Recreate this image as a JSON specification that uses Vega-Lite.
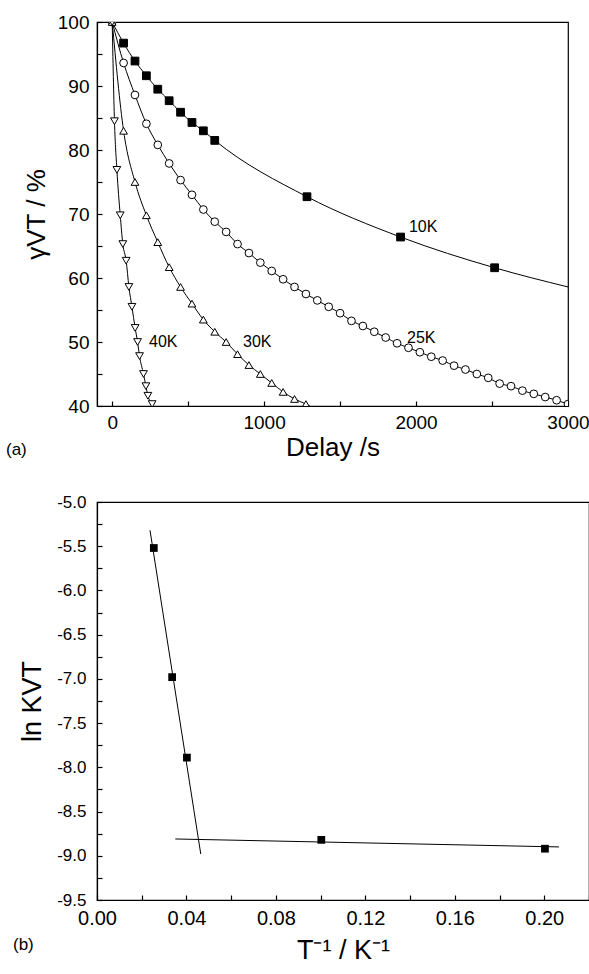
{
  "$schema": "https://vega.github.io/schema/vega-lite/v6.json",
  "padding": {"left": 5, "top": 12, "right": 0, "bottom": 0},
  "spacing": 31,
  "background": "white",
  "config": {
    "font": "Liberation Sans",
    "view": {"stroke": "black", "strokeWidth": 1.2},
    "axis": {
      "grid": false, "domainColor": "black", "tickColor": "black", "labelColor": "black",
      "titleColor": "black", "titleFontWeight": "normal", "tickSize": -5, "domainWidth": 1.2,
      "tickWidth": 1.2, "labelFont": "Liberation Sans", "titleFont": "Liberation Sans",
      "labelFlush": false, "labelOverlap": false, "labelBound": false
    }
  },
  "datasets": {
    "a": [
      {"s": "10K", "t": 0, "v": 100, "m": 0},
      {"s": "10K", "t": 75, "v": 96.7, "m": 1},
      {"s": "10K", "t": 150, "v": 93.9, "m": 1},
      {"s": "10K", "t": 225, "v": 91.6, "m": 1},
      {"s": "10K", "t": 300, "v": 89.5, "m": 1},
      {"s": "10K", "t": 375, "v": 87.7, "m": 1},
      {"s": "10K", "t": 450, "v": 85.9, "m": 1},
      {"s": "10K", "t": 525, "v": 84.3, "m": 1},
      {"s": "10K", "t": 600, "v": 83.0, "m": 1},
      {"s": "10K", "t": 675, "v": 81.5, "m": 1},
      {"s": "10K", "t": 1282, "v": 72.7, "m": 1},
      {"s": "10K", "t": 1898, "v": 66.4, "m": 1},
      {"s": "10K", "t": 2517, "v": 61.6, "m": 1},
      {"s": "10K", "t": 3000, "v": 58.6, "m": 0},
      {"s": "25K", "t": 0, "v": 100, "m": 1},
      {"s": "25K", "t": 75, "v": 93.6, "m": 1},
      {"s": "25K", "t": 150, "v": 88.6, "m": 1},
      {"s": "25K", "t": 225, "v": 84.1, "m": 1},
      {"s": "25K", "t": 300, "v": 80.8, "m": 1},
      {"s": "25K", "t": 375, "v": 77.9, "m": 1},
      {"s": "25K", "t": 450, "v": 75.3, "m": 1},
      {"s": "25K", "t": 525, "v": 73.0, "m": 1},
      {"s": "25K", "t": 600, "v": 70.7, "m": 1},
      {"s": "25K", "t": 675, "v": 68.8, "m": 1},
      {"s": "25K", "t": 750, "v": 67.2, "m": 1},
      {"s": "25K", "t": 825, "v": 65.3, "m": 1},
      {"s": "25K", "t": 900, "v": 63.9, "m": 1},
      {"s": "25K", "t": 975, "v": 62.4, "m": 1},
      {"s": "25K", "t": 1050, "v": 61.1, "m": 1},
      {"s": "25K", "t": 1125, "v": 59.8, "m": 1},
      {"s": "25K", "t": 1200, "v": 58.6, "m": 1},
      {"s": "25K", "t": 1275, "v": 57.5, "m": 1},
      {"s": "25K", "t": 1350, "v": 56.5, "m": 1},
      {"s": "25K", "t": 1425, "v": 55.5, "m": 1},
      {"s": "25K", "t": 1500, "v": 54.5, "m": 1},
      {"s": "25K", "t": 1575, "v": 53.3, "m": 1},
      {"s": "25K", "t": 1650, "v": 52.5, "m": 1},
      {"s": "25K", "t": 1725, "v": 51.6, "m": 1},
      {"s": "25K", "t": 1800, "v": 50.7, "m": 1},
      {"s": "25K", "t": 1875, "v": 49.8, "m": 1},
      {"s": "25K", "t": 1950, "v": 49.1, "m": 1},
      {"s": "25K", "t": 2025, "v": 48.4, "m": 1},
      {"s": "25K", "t": 2100, "v": 47.7, "m": 1},
      {"s": "25K", "t": 2175, "v": 47.1, "m": 1},
      {"s": "25K", "t": 2250, "v": 46.3, "m": 1},
      {"s": "25K", "t": 2325, "v": 45.7, "m": 1},
      {"s": "25K", "t": 2400, "v": 45.0, "m": 1},
      {"s": "25K", "t": 2475, "v": 44.4, "m": 1},
      {"s": "25K", "t": 2550, "v": 43.5, "m": 1},
      {"s": "25K", "t": 2625, "v": 43.1, "m": 1},
      {"s": "25K", "t": 2700, "v": 42.4, "m": 1},
      {"s": "25K", "t": 2775, "v": 41.9, "m": 1},
      {"s": "25K", "t": 2850, "v": 41.4, "m": 1},
      {"s": "25K", "t": 2925, "v": 40.9, "m": 1},
      {"s": "25K", "t": 3000, "v": 40.3, "m": 1},
      {"s": "30K", "t": 0, "v": 100, "m": 1},
      {"s": "30K", "t": 75, "v": 83.0, "m": 1},
      {"s": "30K", "t": 150, "v": 75.0, "m": 1},
      {"s": "30K", "t": 225, "v": 69.8, "m": 1},
      {"s": "30K", "t": 300, "v": 65.6, "m": 1},
      {"s": "30K", "t": 375, "v": 61.7, "m": 1},
      {"s": "30K", "t": 450, "v": 58.6, "m": 1},
      {"s": "30K", "t": 525, "v": 56.0, "m": 1},
      {"s": "30K", "t": 600, "v": 53.5, "m": 1},
      {"s": "30K", "t": 675, "v": 51.6, "m": 1},
      {"s": "30K", "t": 750, "v": 50.0, "m": 1},
      {"s": "30K", "t": 825, "v": 48.1, "m": 1},
      {"s": "30K", "t": 900, "v": 46.4, "m": 1},
      {"s": "30K", "t": 975, "v": 45.0, "m": 1},
      {"s": "30K", "t": 1050, "v": 43.6, "m": 1},
      {"s": "30K", "t": 1125, "v": 42.2, "m": 1},
      {"s": "30K", "t": 1200, "v": 41.1, "m": 1},
      {"s": "30K", "t": 1275, "v": 40.3, "m": 1},
      {"s": "30K", "t": 1330, "v": 39.6, "m": 0},
      {"s": "40K", "t": 0, "v": 100, "m": 1},
      {"s": "40K", "t": 15, "v": 84.5, "m": 1},
      {"s": "40K", "t": 31, "v": 76.9, "m": 1},
      {"s": "40K", "t": 53, "v": 69.8, "m": 1},
      {"s": "40K", "t": 70, "v": 65.3, "m": 1},
      {"s": "40K", "t": 92, "v": 62.7, "m": 1},
      {"s": "40K", "t": 110, "v": 58.6, "m": 1},
      {"s": "40K", "t": 130, "v": 55.5, "m": 1},
      {"s": "40K", "t": 151, "v": 52.2, "m": 1},
      {"s": "40K", "t": 167, "v": 50.0, "m": 1},
      {"s": "40K", "t": 180, "v": 47.8, "m": 1},
      {"s": "40K", "t": 206, "v": 45.0, "m": 1},
      {"s": "40K", "t": 222, "v": 43.1, "m": 1},
      {"s": "40K", "t": 235, "v": 41.6, "m": 1},
      {"s": "40K", "t": 263, "v": 40.3, "m": 1},
      {"s": "40K", "t": 280, "v": 39.2, "m": 0}
    ],
    "alabels": [
      {"label": "10K", "t": 2047, "v": 68.0},
      {"label": "25K", "t": 2034, "v": 50.6},
      {"label": "30K", "t": 955, "v": 50.0},
      {"label": "40K", "t": 336, "v": 50.0}
    ],
    "b": [
      {"x": 0.0254, "y": -5.52},
      {"x": 0.0336, "y": -6.98},
      {"x": 0.0402, "y": -7.89},
      {"x": 0.1003, "y": -8.82},
      {"x": 0.2003, "y": -8.92}
    ],
    "blines": [
      {"seg": "A", "x": 0.0237, "y": -5.32},
      {"seg": "A", "x": 0.0464, "y": -8.98},
      {"seg": "B", "x": 0.035, "y": -8.81},
      {"seg": "B", "x": 0.2066, "y": -8.90}
    ]
  },
  "vconcat": [
    {
      "width": 471,
      "height": 384,
      "title": {"text": "(a)", "orient": "bottom", "anchor": "start", "frame": "group", "dx": -91, "dy": -22, "fontSize": 17, "fontWeight": "normal", "font": "Liberation Sans", "color": "black"},
      "encoding": {
        "x": {
          "field": "t", "type": "quantitative",
          "scale": {"domain": [-100, 3000], "nice": false, "zero": false},
          "axis": {
            "title": "Delay /s", "values": [0, 500, 1000, 1500, 2000, 2500, 3000],
            "format": "d", "labelExpr": "datum.value % 1000 === 0 ? datum.label : ''",
            "labelFontSize": 19, "titleFontSize": 26, "labelPadding": 12, "titlePadding": 2
          }
        },
        "y": {
          "field": "v", "type": "quantitative",
          "scale": {"domain": [40, 100], "nice": false, "zero": false},
          "axis": {
            "title": "γVT / %", "values": [40, 45, 50, 55, 60, 65, 70, 75, 80, 85, 90, 95, 100],
            "labelExpr": "datum.value % 10 === 0 ? datum.label : ''",
            "labelFontSize": 19, "titleFontSize": 26, "labelPadding": 13, "titlePadding": 8
          }
        }
      },
      "layer": [
        {
          "data": {"name": "a"},
          "mark": {"type": "line", "color": "black", "strokeWidth": 1, "interpolate": "monotone", "clip": true},
          "encoding": {"detail": {"field": "s"}}
        },
        {
          "data": {"name": "a"},
          "transform": [{"filter": "datum.m == 1"}],
          "mark": {"type": "point", "filled": true, "stroke": "black", "strokeWidth": 1, "size": 60, "opacity": 1, "clip": true},
          "encoding": {
            "shape": {"field": "s", "type": "nominal", "scale": {"domain": ["10K", "25K", "30K", "40K"], "range": ["square", "circle", "triangle-up", "triangle-down"]}, "legend": null},
            "fill": {"field": "s", "type": "nominal", "scale": {"domain": ["10K", "25K", "30K", "40K"], "range": ["black", "white", "white", "white"]}, "legend": null}
          }
        },
        {
          "data": {"name": "alabels"},
          "mark": {"type": "text", "fontSize": 16, "color": "black", "align": "center", "baseline": "middle"},
          "encoding": {"text": {"field": "label"}}
        }
      ]
    },
    {
      "width": 492,
      "height": 398,
      "title": {"text": "(b)", "orient": "bottom", "anchor": "start", "frame": "group", "dx": -84, "dy": -30, "fontSize": 17, "fontWeight": "normal", "font": "Liberation Sans", "color": "black"},
      "encoding": {
        "x": {
          "field": "x", "type": "quantitative",
          "scale": {"domain": [0, 0.22], "nice": false, "zero": false},
          "axis": {
            "title": "T⁻¹ / K⁻¹", "values": [0, 0.02, 0.04, 0.06, 0.08, 0.1, 0.12, 0.14, 0.16, 0.18, 0.2, 0.22],
            "labelExpr": "abs(round(datum.value*100)) % 4 === 0 ? format(datum.value, '.2f') : ''",
            "labelFontSize": 20, "titleFontSize": 27, "labelPadding": 13, "titlePadding": 9
          }
        },
        "y": {
          "field": "y", "type": "quantitative",
          "scale": {"domain": [-9.5, -5.0], "nice": false, "zero": false},
          "axis": {
            "title": "ln KVT", "values": [-9.5, -9.25, -9.0, -8.75, -8.5, -8.25, -8.0, -7.75, -7.5, -7.25, -7.0, -6.75, -6.5, -6.25, -6.0, -5.75, -5.5, -5.25, -5.0],
            "labelExpr": "abs(round(datum.value*4)) % 2 === 0 ? '-' + format(-datum.value, '.1f') : ''",
            "labelFontSize": 17, "titleFontSize": 27, "labelPadding": 16, "titlePadding": 10
          }
        }
      },
      "layer": [
        {
          "data": {"name": "blines"},
          "mark": {"type": "line", "color": "black", "strokeWidth": 1, "clip": true},
          "encoding": {"detail": {"field": "seg"}}
        },
        {
          "data": {"name": "b"},
          "mark": {"type": "point", "shape": "square", "filled": true, "color": "black", "size": 60, "opacity": 1}
        }
      ]
    }
  ]
}
